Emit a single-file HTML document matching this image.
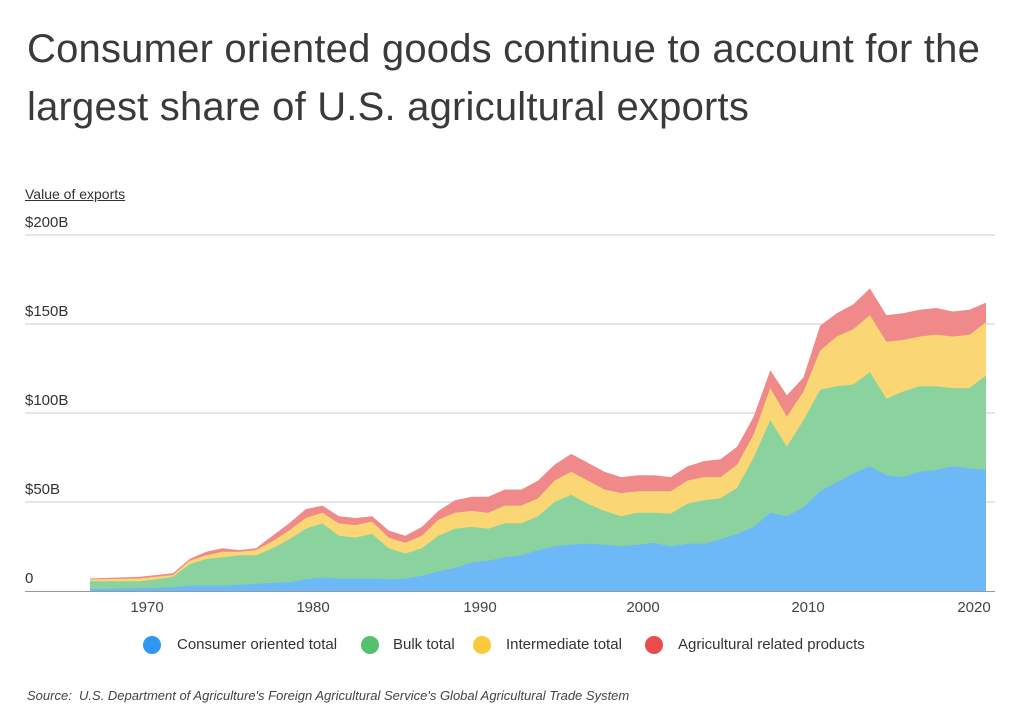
<!DOCTYPE html>
<html><head><meta charset="utf-8">
<style>
body{margin:0;background:#fff;width:1024px;height:715px;overflow:hidden;font-family:"Liberation Sans",sans-serif;color:#333;}
.t{position:absolute;left:27px;font-size:40px;letter-spacing:0.2px;color:#3a3a3a;line-height:56px;}
.y{position:absolute;left:25px;font-size:15px;color:#333;}
.x{position:absolute;top:599px;font-size:15px;color:#444;width:60px;text-align:center;}
.lg{position:absolute;top:636px;font-size:15px;color:#333;}
.dot{position:absolute;top:636px;width:18px;height:18px;border-radius:50%;}
</style></head><body>
<div class="t" style="top:21px">Consumer oriented goods continue to account for the</div>
<div class="t" style="top:79px">largest share of U.S. agricultural exports</div>
<div class="y" style="top:186px;text-decoration:underline;font-size:14px">Value of exports</div>
<div class="y" style="top:214px">$200B</div>
<div class="y" style="top:303px">$150B</div>
<div class="y" style="top:392px">$100B</div>
<div class="y" style="top:481px">$50B</div>
<div class="y" style="top:570px">0</div>
<svg id="c" width="1024" height="715" style="position:absolute;left:0;top:0"></svg>
<div class="x" style="left:117px">1970</div>
<div class="x" style="left:283px">1980</div>
<div class="x" style="left:450px">1990</div>
<div class="x" style="left:613px">2000</div>
<div class="x" style="left:778px">2010</div>
<div class="x" style="left:944px">2020</div>
<div class="dot" style="left:143px;background:#2f96f3"></div><div class="lg" style="left:177px">Consumer oriented total</div>
<div class="dot" style="left:361px;background:#55c06e"></div><div class="lg" style="left:393px">Bulk total</div>
<div class="dot" style="left:473px;background:#fbc93c"></div><div class="lg" style="left:506px">Intermediate total</div>
<div class="dot" style="left:645px;background:#ea4d4d"></div><div class="lg" style="left:678px">Agricultural related products</div>
<div style="position:absolute;left:27px;top:688px;font-size:13px;font-style:italic;color:#444">Source:&nbsp; U.S. Department of Agriculture's Foreign Agricultural Service's Global Agricultural Trade System</div>
<script>
function fill(o){var k=Object.keys(o).map(Number).sort((a,b)=>a-b),r=[];for(var y=1967;y<=2021;y++){if(o[y]!==undefined){r.push(o[y]);continue;}var a=k.filter(v=>v<y).pop(),b=k.find(v=>v>y);r.push(o[a]+(o[b]-o[a])*(y-a)/(b-a));}return r;}
var B=fill({1967:1,1970:1.5,1972:2,1973:3,1975:3,1977:4,1979:5,1980:6.5,1981:7.5,1982:7,1984:7,1985:6.5,1986:7,1987:8.5,1988:11,1989:13,1990:16,1991:17,1992:19,1993:20,1994:23,1995:25,1996:26,1997:26.5,1998:26,1999:25,2000:26,2001:27,2002:25,2003:26.5,2004:26.5,2005:29,2006:32,2007:36,2008:44,2009:42,2010:47,2011:56,2012:61,2013:66,2014:70,2015:65,2016:64,2017:67,2018:68,2019:70,2020:69,2021:68});
var G=fill({1967:5.5,1970:5.5,1971:6.5,1972:8,1973:15,1974:18,1975:19,1976:20,1977:20,1978:24,1979:29,1980:35,1981:38,1982:31,1983:30,1984:32,1985:24,1986:21,1987:24,1988:31,1989:35,1990:36,1991:35,1992:38,1993:38,1994:42,1995:50,1996:54,1997:49,1998:45,1999:42,2000:44,2001:44,2002:43.5,2003:49,2004:51,2005:52,2006:58,2007:75,2008:96,2009:81,2010:96,2011:113,2012:115,2013:116,2014:123,2015:108,2016:112,2017:115,2018:115,2019:114,2020:114,2021:121});
var Y=fill({1967:6.5,1970:7,1972:9,1973:17,1974:20,1975:22,1976:22,1977:23,1978:28,1979:34,1980:41,1981:44,1982:38,1983:37,1984:39,1985:30,1986:27,1987:31,1988:40,1989:44,1990:45,1991:44,1992:48,1993:48,1994:52,1995:62,1996:67,1997:62,1998:57,1999:55,2000:56,2001:56,2002:56,2003:62,2004:64,2005:64,2006:71,2007:88,2008:114,2009:98,2010:112,2011:135,2012:143,2013:147,2014:155,2015:140,2016:141,2017:143,2018:144,2019:143,2020:144,2021:151});
var R=fill({1967:7,1970:8,1972:10,1973:18,1974:22,1975:24,1976:23,1977:24,1978:31,1979:38,1980:46,1981:48,1982:42,1983:41,1984:42,1985:34,1986:31,1987:36,1988:45,1989:51,1990:53,1991:53,1992:57,1993:57,1994:62,1995:71,1996:77,1997:72,1998:67,1999:64,2000:65,2001:65,2002:64,2003:70,2004:73,2005:74,2006:81,2007:98,2008:124,2009:110,2010:120,2011:149,2012:156,2013:161,2014:170,2015:155,2016:156,2017:158,2018:159,2019:157,2020:158,2021:162});
function X(i){return 90+(i)*(986-90)/54;}function Yp(v){return 591-v*1.78;}
var s='';[235,324,413,502].forEach(function(y){s+='<line x1="25" x2="995" y1="'+y+'" y2="'+y+'" stroke="#ccc" stroke-width="1"/>';});
function area(d,c){var p='M'+X(0)+' 591';d.forEach(function(v,i){p+=' L'+X(i).toFixed(1)+' '+Yp(v).toFixed(1);});p+=' L'+X(54)+' 591Z';return '<path d="'+p+'" fill="'+c+'"/>';}
s+=area(R,'#f08a8a')+area(Y,'#fad675')+area(G,'#8ad39e')+area(B,'#6db8f7');
s+='<line x1="25" x2="995" y1="591.5" y2="591.5" stroke="#999" stroke-width="1"/>';
document.getElementById('c').innerHTML=s;
</script>
</body></html>
